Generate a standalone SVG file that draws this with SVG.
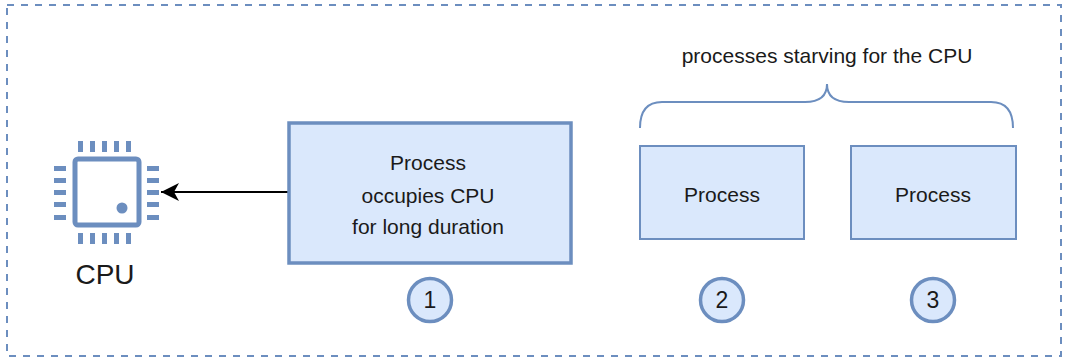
<svg xmlns="http://www.w3.org/2000/svg" width="1066" height="359" viewBox="0 0 1066 359">
<style>
.txt{font-family:"Liberation Sans",Arial,sans-serif;fill:#1a1a1a;text-anchor:middle}
.box{fill:#dae8fc;stroke:#6c8ebf}
.num{fill:#dae8fc;stroke:#6c8ebf;stroke-width:3.5}
.pin{fill:#6c8ebf}
</style>
<defs>
<marker id="arr" markerWidth="20" markerHeight="20" refX="18" refY="9" orient="auto" markerUnits="userSpaceOnUse">
<path d="M0,0 L18,9 L0,18 L5,9 Z" fill="#000"/>
</marker>
</defs>
<rect x="7" y="5" width="1054" height="351" fill="none" stroke="#6c8ebf" stroke-width="2" stroke-dasharray="7 7"/>
<g id="cpu">
<rect x="75" y="159" width="64" height="66" rx="3" fill="#fff" stroke="#6c8ebf" stroke-width="5"/>
<circle cx="122" cy="208" r="5.5" class="pin"/>
<g class="pin">
<rect x="78" y="141" width="5" height="11"/><rect x="90" y="141" width="5" height="11"/><rect x="102" y="141" width="5" height="11"/><rect x="114" y="141" width="5" height="11"/><rect x="126" y="141" width="5" height="11"/>
<rect x="78" y="233" width="5" height="11"/><rect x="90" y="233" width="5" height="11"/><rect x="102" y="233" width="5" height="11"/><rect x="114" y="233" width="5" height="11"/><rect x="126" y="233" width="5" height="11"/>
<rect x="54" y="166" width="12" height="5"/><rect x="54" y="178" width="12" height="5"/><rect x="54" y="190" width="12" height="5"/><rect x="54" y="202" width="12" height="5"/><rect x="54" y="215" width="12" height="5"/>
<rect x="147" y="166" width="12" height="5"/><rect x="147" y="178" width="12" height="5"/><rect x="147" y="190" width="12" height="5"/><rect x="147" y="202" width="12" height="5"/><rect x="147" y="215" width="12" height="5"/>
</g>
<text x="105" y="284" class="txt" font-size="28">CPU</text>
</g>
<g id="connectors">
<line x1="288" y1="192" x2="161" y2="192" stroke="#000" stroke-width="2" marker-end="url(#arr)"/>
<path d="M640,128 Q640,102 662,102 L805,102 Q827,102 827,84 Q827,102 849,102 L991,102 Q1013,102 1013,128" fill="none" stroke="#6c8ebf" stroke-width="2"/>
</g>
<g id="process1">
<rect x="289" y="123" width="282" height="140" class="box" stroke-width="3.5"/>
<text x="428" y="170" class="txt" font-size="21">Process</text>
<text x="428" y="203" class="txt" font-size="21">occupies CPU</text>
<text x="428" y="234" class="txt" font-size="21">for long duration</text>
</g>
<g id="process2">
<rect x="640" y="146" width="164" height="93" class="box" stroke-width="2"/>
<text x="722" y="202" class="txt" font-size="21">Process</text>
</g>
<g id="process3">
<rect x="851" y="146" width="165" height="93" class="box" stroke-width="2"/>
<text x="933" y="202" class="txt" font-size="21">Process</text>
</g>
<g id="label-starving">
<text x="827" y="63" class="txt" font-size="21">processes starving for the CPU</text>
</g>
<g id="num1"><circle cx="430" cy="300" r="21.5" class="num"/><text x="430" y="308" class="txt" font-size="23">1</text></g>
<g id="num2"><circle cx="722" cy="300" r="21.5" class="num"/><text x="722" y="308" class="txt" font-size="23">2</text></g>
<g id="num3"><circle cx="933" cy="300" r="21.5" class="num"/><text x="933" y="308" class="txt" font-size="23">3</text></g>
</svg>
